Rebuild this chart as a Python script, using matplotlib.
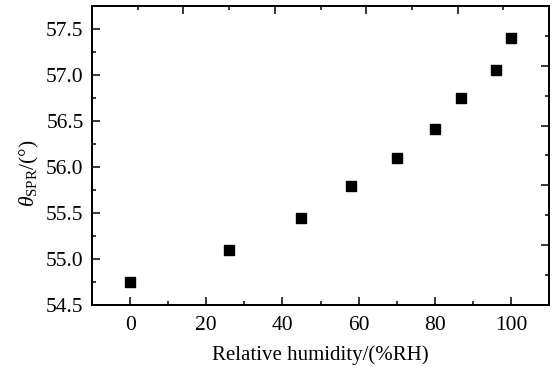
import matplotlib
matplotlib.use("Agg")
import matplotlib.pyplot as plt
from matplotlib.ticker import MultipleLocator, NullFormatter

humidity = [0, 26, 45, 58, 70, 80, 87, 96, 100]
theta_spr = [54.75, 55.10, 55.45, 55.79, 56.10, 56.41, 56.75, 57.05, 57.40]

plt.rcParams['font.family'] = ['Liberation Serif', 'DejaVu Serif']
plt.rcParams['mathtext.fontset'] = 'custom'
plt.rcParams['mathtext.rm'] = 'Liberation Serif'
plt.rcParams['mathtext.it'] = 'Liberation Serif:italic'

fig = plt.figure(figsize=(5.54, 3.70), dpi=100)
ax = fig.add_axes([92/554, 1-305/370, (549-92)/554, (305-6)/370])

ax.plot(humidity, theta_spr, linestyle='none', marker='s', markersize=7.2,
        color='black')

ax.set_xlim(-10, 110)
ax.set_ylim(54.5, 57.75)
ax.xaxis.set_major_locator(MultipleLocator(20))
ax.xaxis.set_minor_locator(MultipleLocator(10))
ax.yaxis.set_major_locator(MultipleLocator(0.5))
ax.yaxis.set_minor_locator(MultipleLocator(0.25))
ax.yaxis.set_major_formatter(matplotlib.ticker.FormatStrFormatter('%.1f'))

for s in ax.spines.values():
    s.set_linewidth(1.3)

ax.tick_params(which='both', direction='in', width=1.1, labelsize=15.5, top=False, right=False)
ax.tick_params(which='major', length=6)
ax.tick_params(axis='x', which='major', pad=8)
ax.tick_params(axis='y', which='major', pad=6)
ax.tick_params(which='minor', length=3)

ax.set_xlabel('Relative humidity/(%RH)', fontsize=15, labelpad=7)
ax.set_ylabel(r'$\mathit{\theta}_{\rm SPR}$/(°)', fontsize=15.5)
ax.yaxis.set_label_coords(-0.112, 0.44)

axt = ax.twiny()
axt.set_xlim(0, 1)
axt.xaxis.set_major_locator(MultipleLocator(0.2))
axt.xaxis.set_minor_locator(MultipleLocator(0.1))
axt.xaxis.set_major_formatter(NullFormatter())
axt.tick_params(which='both', direction='in', width=1.1)
axt.tick_params(which='major', length=6)
axt.tick_params(which='minor', length=3)

axr = ax.twinx()
axr.set_ylim(0, 1)
axr.yaxis.set_major_locator(MultipleLocator(0.2))
axr.yaxis.set_minor_locator(MultipleLocator(0.1))
axr.yaxis.set_major_formatter(NullFormatter())
axr.tick_params(which='both', direction='in', width=1.1)
axr.tick_params(which='major', length=6)
axr.tick_params(which='minor', length=3)
for a in (axt, axr):
    for s in a.spines.values():
        s.set_linewidth(1.3)

fig.savefig('out.png', dpi=100)
